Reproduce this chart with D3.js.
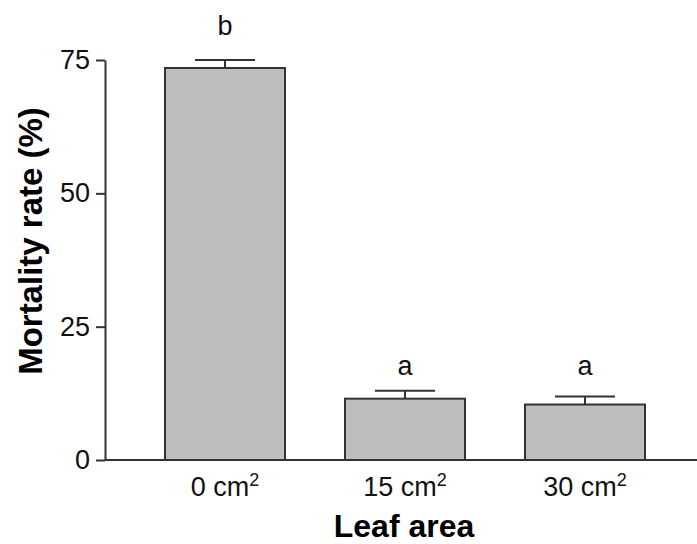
<!DOCTYPE html>
<html>
<head>
<meta charset="utf-8">
<script src="https://cdn.jsdelivr.net/npm/d3@7"></script>
<style>
  body { margin: 0; background: #fff; }
  svg { display: block; font-family: "Liberation Sans", Arial, sans-serif; }
</style>
</head>
<body>
<div id="chart"></div>
<script>
// Data
const categories = ["0 cm", "15 cm", "30 cm"];
const means = [73.5, 11.5, 10.4];
const errors = [1.5, 1.5, 1.5];
const letters = ["b", "a", "a"];
const letterPos = [79.7, 15.9, 15.9];
const yTicks = [0, 25, 50, 75];

const width = 697;
const height = 544;

const svg = d3.select("#chart")
  .append("svg")
  .attr("width", width)
  .attr("height", height);

// Scales
const x = d3.scaleBand()
  .domain(categories)
  .range([105, 705])
  .paddingInner(1 / 3)
  .paddingOuter(1 / 3);

const y = d3.scaleLinear()
  .domain([0, 75])
  .range([460, 60]);

const data = categories.map((c, i) => ({
  cat: c, mean: means[i], err: errors[i], letter: letters[i], lp: letterPos[i]
}));

// Bars
svg.append("g")
  .selectAll("rect")
  .data(data)
  .join("rect")
  .attr("x", d => x(d.cat))
  .attr("y", d => y(d.mean))
  .attr("width", x.bandwidth())
  .attr("height", d => y(0) - y(d.mean))
  .attr("fill", "#bebebe")
  .attr("stroke", "#333")
  .attr("stroke-width", 2);

// Error bars
const eb = svg.append("g")
  .attr("stroke", "#333")
  .attr("stroke-width", 2);

eb.selectAll("line.v")
  .data(data)
  .join("line")
  .attr("class", "v")
  .attr("x1", d => x(d.cat) + x.bandwidth() / 2)
  .attr("x2", d => x(d.cat) + x.bandwidth() / 2)
  .attr("y1", d => y(d.mean))
  .attr("y2", d => y(d.mean + d.err));

eb.selectAll("line.cap")
  .data(data)
  .join("line")
  .attr("class", "cap")
  .attr("x1", d => x(d.cat) + x.bandwidth() / 2 - 30)
  .attr("x2", d => x(d.cat) + x.bandwidth() / 2 + 30)
  .attr("y1", d => y(d.mean + d.err))
  .attr("y2", d => y(d.mean + d.err));

// Significance letters
svg.append("g")
  .selectAll("text")
  .data(data)
  .join("text")
  .attr("x", d => x(d.cat) + x.bandwidth() / 2)
  .attr("y", d => y(d.lp))
  .attr("text-anchor", "middle")
  .attr("font-size", 27)
  .attr("fill", "#111")
  .text(d => d.letter);

// Y axis
const yAxis = svg.append("g")
  .attr("transform", "translate(105,0)")
  .call(d3.axisLeft(y).tickValues(yTicks).tickSize(9).tickSizeOuter(0).tickPadding(6));

yAxis.select(".domain").attr("stroke", "#333").attr("stroke-width", 2);
yAxis.selectAll(".tick line").attr("stroke", "#333").attr("stroke-width", 2);
yAxis.selectAll(".tick text")
  .attr("font-size", 27)
  .attr("font-family", "Liberation Sans, Arial, sans-serif")
  .attr("fill", "#111");

// X axis baseline
svg.append("line")
  .attr("x1", 105)
  .attr("x2", width)
  .attr("y1", y(0))
  .attr("y2", y(0))
  .attr("stroke", "#333")
  .attr("stroke-width", 2);

// X tick labels with superscript
const xl = svg.append("g")
  .selectAll("text")
  .data(data)
  .join("text")
  .attr("x", d => x(d.cat) + x.bandwidth() / 2)
  .attr("y", 496)
  .attr("text-anchor", "middle")
  .attr("font-size", 27)
  .attr("fill", "#111");

xl.append("tspan").text(d => d.cat);
xl.append("tspan")
  .attr("font-size", 18)
  .attr("dy", -10)
  .text("2");

// Axis titles
svg.append("text")
  .attr("transform", "translate(42,241) rotate(-90)")
  .attr("text-anchor", "middle")
  .attr("font-size", 33)
  .attr("font-weight", "bold")
  .attr("fill", "#000")
  .text("Mortality rate (%)");

svg.append("text")
  .attr("x", 404)
  .attr("y", 537)
  .attr("text-anchor", "middle")
  .attr("font-size", 32)
  .attr("font-weight", "bold")
  .attr("fill", "#000")
  .text("Leaf area");
</script>
</body>
</html>
